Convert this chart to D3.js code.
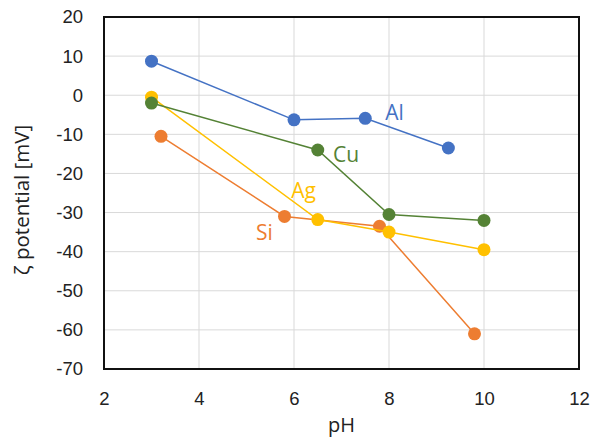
<!DOCTYPE html>
<html>
<head>
<meta charset="utf-8">
<script src="https://cdn.jsdelivr.net/npm/d3@7"></script>
<style>
	body { margin: 0; background: #fff; }
	svg { display: block; font-family: "Open Sans", "Noto Sans", sans-serif; }
</style>
</head>
<body>
<div class="chart"></div>
<script>
// series values (pH, zeta potential in mV)
const alPH = [3, 6, 7.5, 9.25];
const alZeta = [8.7, -6.3, -5.9, -13.5];
const cuPH = [3, 6.5, 8, 10];
const cuZeta = [-2, -14, -30.5, -32];
const agPH = [3, 6.5, 8, 10];
const agZeta = [-0.5, -31.8, -35, -39.5];
const siPH = [3.2, 5.8, 7.8, 9.8];
const siZeta = [-10.5, -31, -33.5, -61];

const xTicks = [2, 4, 6, 8, 10, 12];
const yTicks = [20, 10, 0, -10, -20, -30, -40, -50, -60, -70];

const series = [
	{ name: "Si", ph: siPH, zeta: siZeta, color: "#ED7D31", label: [5.2, -37] },
	{ name: "Ag", ph: agPH, zeta: agZeta, color: "#FFC000", label: [5.94, -26.3] },
	{ name: "Cu", ph: cuPH, zeta: cuZeta, color: "#548235", label: [6.82, -17.2] },
	{ name: "Al", ph: alPH, zeta: alZeta, color: "#4472C4", label: [7.92, -6.3] }
];

const width = 595, height = 441;
const margin = { top: 17, right: 16, bottom: 72, left: 104 };

const x = d3.scaleLinear().domain([2, 12]).range([margin.left, width - margin.right]);
const y = d3.scaleLinear().domain([-70, 20]).range([height - margin.bottom, margin.top]);

const svg = d3.select(".chart").append("svg")
	.attr("width", width)
	.attr("height", height);

// grid
svg.append("g")
	.attr("stroke", "#d9d9d9")
	.attr("stroke-width", 1)
	.call(g => g.selectAll("line.v").data(xTicks).join("line")
		.attr("x1", d => x(d)).attr("x2", d => x(d))
		.attr("y1", y(20)).attr("y2", y(-70)))
	.call(g => g.selectAll("line.h").data(yTicks).join("line")
		.attr("x1", x(2)).attr("x2", x(12))
		.attr("y1", d => y(d)).attr("y2", d => y(d)));

// axes (labels only, Excel style, plain hyphen minus)
svg.append("g")
	.attr("transform", `translate(0,${y(-70)})`)
	.call(d3.axisBottom(x).tickValues(xTicks).tickFormat(d => String(d)).tickSize(0).tickPadding(23))
	.call(g => g.select(".domain").remove())
	.call(g => g.selectAll("text").attr("fill", "#222").style("font-size", "18.5px"));

svg.append("g")
	.attr("transform", `translate(${x(2)},0)`)
	.call(d3.axisLeft(y).tickValues(yTicks).tickFormat(d => String(d)).tickSize(0).tickPadding(21))
	.call(g => g.select(".domain").remove())
	.call(g => g.selectAll("text").attr("fill", "#222").style("font-size", "18.5px"));

// plot border
svg.append("rect")
	.attr("x", x(2)).attr("y", y(20))
	.attr("width", x(12) - x(2)).attr("height", y(-70) - y(20))
	.attr("fill", "none")
	.attr("stroke", "#111")
	.attr("stroke-width", 2);

const line = d3.line().x(d => x(d[0])).y(d => y(d[1]));

series.forEach(s => {
	const pts = s.ph.map((p, i) => [p, s.zeta[i]]);
	const g = svg.append("g");
	g.append("path")
		.attr("d", line(pts))
		.attr("fill", "none")
		.attr("stroke", s.color)
		.attr("stroke-width", 1.5);
	g.selectAll("circle").data(pts).join("circle")
		.attr("cx", d => x(d[0]))
		.attr("cy", d => y(d[1]))
		.attr("r", 6.5)
		.attr("fill", s.color);
	g.append("text")
		.attr("x", x(s.label[0]))
		.attr("y", y(s.label[1]))
		.attr("fill", s.color)
		.style("font-size", "21px")
		.text(s.name);
});

// axis titles
svg.append("text")
	.attr("x", (x(2) + x(12)) / 2)
	.attr("y", 432)
	.attr("text-anchor", "middle")
	.attr("fill", "#222")
	.style("font-size", "20px")
	.text("pH");

svg.append("text")
	.attr("transform", "translate(29,200) rotate(-90)")
	.attr("text-anchor", "middle")
	.attr("fill", "#222")
	.style("font-size", "20.5px")
	.text("ζ potential [mV]");
</script>
</body>
</html>
